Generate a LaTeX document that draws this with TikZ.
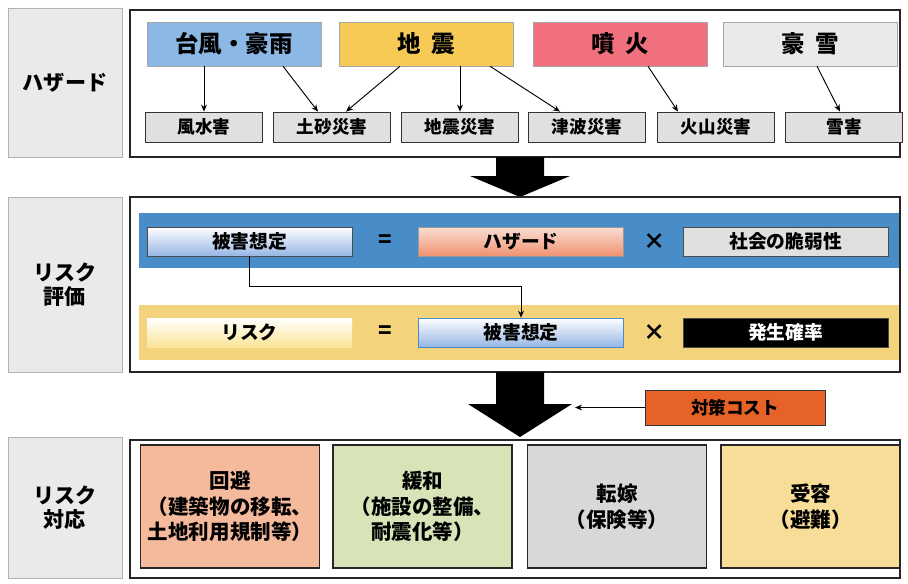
\documentclass[tikz,border=0pt]{standalone}
\usepackage{fontspec}
\setmainfont{Noto Sans CJK JP}
\usetikzlibrary{positioning, calc, arrows.meta}
\definecolor{typhoon}{RGB}{139,184,228}
\definecolor{quake}{RGB}{246,202,84}
\definecolor{erupt}{RGB}{240,112,126}
\definecolor{snowy}{RGB}{234,234,234}
\definecolor{dmg}{RGB}{224,224,224}
\definecolor{bandblue}{RGB}{72,140,200}
\definecolor{bandyellow}{RGB}{243,212,124}
\definecolor{lightblue}{RGB}{150,182,228}
\definecolor{salmon}{RGB}{240,146,112}
\definecolor{paleyellow}{RGB}{250,228,150}
\definecolor{costorange}{RGB}{230,98,40}
\definecolor{avoid}{RGB}{245,186,156}
\definecolor{mitig}{RGB}{214,228,184}
\definecolor{transf}{RGB}{216,216,216}
\definecolor{accept}{RGB}{248,221,152}
\definecolor{sidegray}{RGB}{234,234,234}
\tikzset{
	sidelabel/.style={
		draw=gray!60,
		fill=sidegray,
		align=center,
		minimum width=34.2mm,
		font={\fontsize{18}{21}\selectfont\bfseries}
	},
	panel/.style={
		draw=black!85,
		line width=1pt,
		fill=white,
		minimum width=231mm
	},
	hazardbox/.style={
		draw=gray!70,
		minimum width=52.2mm,
		minimum height=13.2mm,
		font={\fontsize{20}{24}\selectfont\bfseries}
	},
	dmgbox/.style={
		draw=black!80,
		line width=0.7pt,
		fill=dmg,
		minimum width=35.1mm,
		minimum height=9mm,
		font={\fontsize{15}{18}\selectfont\bfseries}
	},
	band/.style={
		draw=none,
		minimum width=228mm,
		minimum height=16.5mm
	},
	termbox/.style={
		draw=black!70,
		line width=0.5pt,
		minimum width=61.5mm,
		minimum height=8.7mm,
		font={\fontsize{16}{19}\selectfont\bfseries}
	},
	opsign/.style={
		font={\fontsize{19}{22}\selectfont\bfseries}
	},
	answerbox/.style={
		draw=black!85,
		line width=1pt,
		align=center,
		minimum width=53.7mm,
		minimum height=36.9mm,
		font={\fontsize{17.5}{22}\selectfont\bfseries}
	},
	thin/.style={-{Stealth[length=6pt, width=5pt]}, line width=0.8pt}
}

\begin{document}
\begin{tikzpicture}[x=0.3mm, y=-0.3mm]
	\useasboundingbox (0,0) rectangle (908,583);

	% ---- hazards
	\node(lblhazard)[sidelabel, minimum height=44.7mm] at (65,82.5) {ハザード};
	\node(panelhazard)[panel, minimum height=44.1mm] at (515,83.5) {};

	\node(typhoon)[hazardbox, fill=typhoon] at (234,44) {台風・豪雨};
	\node(quake)[hazardbox, fill=quake] at (426,44) {地\ \ 震};
	\node(erupt)[hazardbox, fill=erupt] at (620,44) {噴\ \ 火};
	\node(snow)[hazardbox, fill=snowy] at (810,44) {豪\ \ 雪};

	\node(flood)[dmgbox] at (204,127) {風水害};
	\node(slide)[dmgbox] at (332,127) {土砂災害};
	\node(qdmg)[dmgbox] at (460,127) {地震災害};
	\node(tsunami)[dmgbox] at (587,127) {津波災害};
	\node(volcano)[dmgbox] at (716,127) {火山災害};
	\node(snowdmg)[dmgbox] at (844,127) {雪害};

	\draw[thin] (typhoon.south -| flood.north) -- (flood.north);
	\draw[thin] ($(typhoon.south)+(49,0)$) -- ($(slide.north)+(-14,0)$);
	\draw[thin] ($(quake.south)+(-26,0)$) -- ($(slide.north)+(14,0)$);
	\draw[thin] (quake.south -| qdmg.north) -- (qdmg.north);
	\draw[thin] ($(quake.south)+(64,0)$) -- ($(tsunami.north)+(-27,0)$);
	\draw[thin] ($(erupt.south)+(28,0)$) -- ($(volcano.north)+(-38,0)$);
	\draw[thin] ($(snow.south)+(7,0)$) -- ($(snowdmg.north)+(-4,0)$);

	% ---- big arrow down
	\fill[black] (496,157) -- (544,157) -- (544,176) -- (570,176) -- (520,197)
		-- (470,176) -- (496,176) -- cycle;

	% ---- risk evaluation
	\node(lbleval)[sidelabel, minimum height=52.5mm] at (65,284.5) {リスク\\評価};
	\node(paneleval)[panel, minimum height=52.5mm] at (515,284.5) {};

	\node(blueband)[band, fill=bandblue] at (519,240.5) {};
	\node(dmgest)[termbox, top color=white, bottom color=lightblue] at (249.5,241.5) {被害想定};
	\node(eq1)[opsign] at (385,241.5) {=};
	\node(hazard)[termbox, top color=salmon!30, bottom color=salmon, draw=black!40] at (521,241.5) {ハザード};
	\node(times1)[opsign] at (655,241.5) {×};
	\node(vulner)[termbox, fill=dmg] at (785.5,241.5) {社会の脆弱性};

	\node(yellowband)[band, fill=bandyellow] at (519,332.5) {};
	\node(risk)[termbox, draw=none, top color=white, bottom color=paleyellow] at (249.5,332.5) {リスク};
	\node(eq2)[opsign] at (385,332.5) {=};
	\node(dmgest2)[termbox, top color=white, bottom color=lightblue, draw=bandblue] at (521,332.5) {被害想定};
	\node(times2)[opsign] at (655,332.5) {×};
	\node(prob)[termbox, fill=black, text=white] at (785.5,332.5) {発生確率};

	\draw[thin] (dmgest.south) -- ++(0,30) -| (dmgest2.north);

	% ---- big arrow down with cost
	\fill[black] (496,372) -- (544,372) -- (544,404) -- (572,404) -- (520,437)
		-- (468,404) -- (496,404) -- cycle;
	\node(cost)[draw=black!80, fill=costorange, minimum width=54mm, minimum height=10.5mm,
		font={\fontsize{15}{18}\selectfont\bfseries}] at (735,407.5) {対策コスト};
	\coordinate(costend) at (575,407.5);
	\draw[thin] (cost.west) -- (costend);

	% ---- risk response
	\node(lblresp)[sidelabel, minimum height=42.3mm] at (65,507.5) {リスク\\対応};
	\node(panelresp)[panel, minimum height=41.4mm] at (515,509) {};

	\node(avoid)[answerbox, fill=avoid] at (230,506.5) {回避\\（建築物の移転、\\土地利用規制等）};
	\node(mitig)[answerbox, fill=mitig] at (422.5,506.5) {緩和\\（施設の整備、\\耐震化等）};
	\node(transf)[answerbox, fill=transf] at (617,506.5) {転嫁\\（保険等）};
	\node(accept)[answerbox, fill=accept] at (810.5,506.5) {受容\\（避難）};
\end{tikzpicture}
\end{document}
